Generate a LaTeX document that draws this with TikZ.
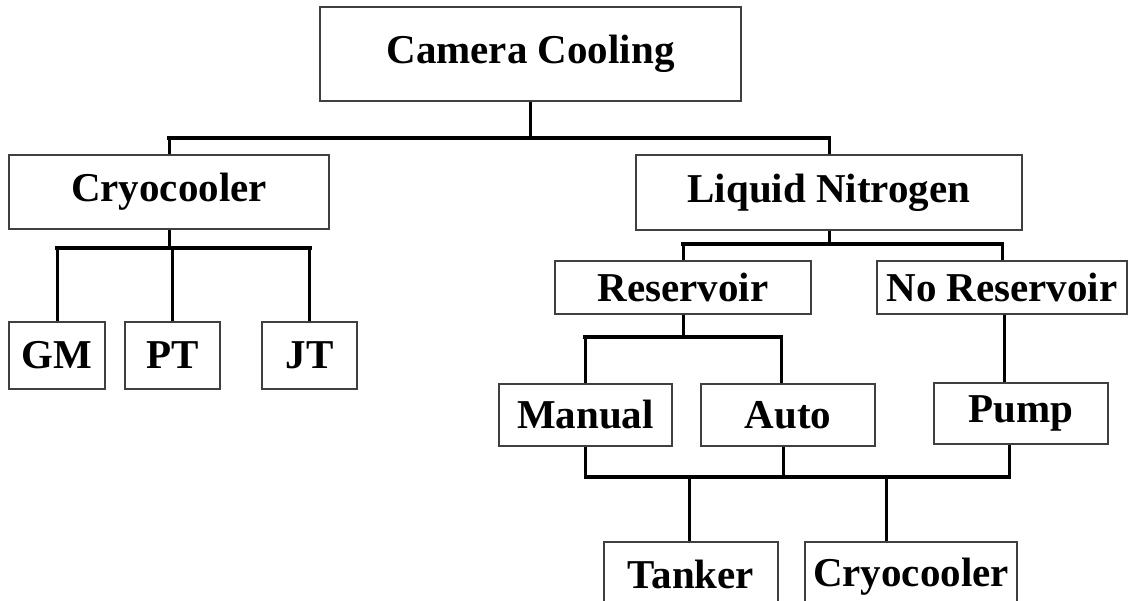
\documentclass[tikz,border=0pt]{standalone}
\usepackage{fontspec}
\setmainfont{Liberation Serif}
\usepackage{tikz}
\usetikzlibrary{positioning}

\begin{document}
\begin{tikzpicture}[x=1pt,y=-1pt,
    box/.style={draw=black!75,line width=1.3pt,inner sep=0pt,
      font=\fontsize{41}{48}\selectfont\bfseries},
    stem/.style={line width=3pt},
    bar/.style={line width=4.5pt,line cap=rect}]
      \useasboundingbox (0,0) rectangle (1130,601);
      \fill[white] (0,0) rectangle (1130,601);
      \clip (0,0) rectangle (1130,601);
      % top level
      \node[box,minimum width=421pt,minimum height=94pt] (camera) at (530.5,54) {Camera Cooling};
      \node[box,minimum width=320pt,minimum height=74pt] (cryo) at (169,192) {Cryocooler};
      \node[box,minimum width=386pt,minimum height=75pt] (lnit) at (829,192.5) {Liquid Nitrogen};
      % cryocooler types
      \node[box,minimum width=96pt,minimum height=67pt] (gm) at (57,355.5) {GM};
      \node[box,minimum width=95pt,minimum height=67pt] (pt) at (172.5,355.5) {PT};
      \node[box,minimum width=95pt,minimum height=67pt] (jt) at (309.5,355.5) {JT};
      % liquid nitrogen
      \node[box,minimum width=256pt,minimum height=53pt] (resv) at (683,287.5) {Reservoir};
      \node[box,minimum width=250pt,minimum height=53pt] (nores) at (1002,287.5) {No Reservoir};
      \node[box,minimum width=173pt,minimum height=62pt] (manual) at (585.5,415) {Manual};
      \node[box,minimum width=174pt,minimum height=62pt] (auto) at (788,415) {Auto};
      \node[box,minimum width=174pt,minimum height=61pt] (pump) at (1021,413.5) {Pump};
      \node[box,minimum width=174pt,minimum height=64pt] (tanker) at (691,574) {Tanker};
      \node[box,minimum width=212pt,minimum height=69pt] (cryob) at (911,576.5) {Cryocooler};

      \coordinate (jtop) at (530.5,138);
      \coordinate (jcryo) at (169,248);
      \coordinate (jln) at (829,244);
      \coordinate (jres) at (683,337);
      \coordinate (jbot) at (797,477);

      \draw[stem] (camera) -- (jtop);
      \draw[stem] (cryo.north) -- (cryo.north |- jtop);
      \draw[stem] (lnit.north) -- (lnit.north |- jtop);
      \draw[bar] (cryo.north |- jtop) -- (lnit.north |- jtop);

      \draw[stem] (cryo) -- (jcryo);
      \draw[stem] (gm.north) -- (gm.north |- jcryo);
      \draw[stem] (pt.north) -- (pt.north |- jcryo);
      \draw[stem] (jt.north) -- (jt.north |- jcryo);
      \draw[bar] (gm.north |- jcryo) -- (jt.north |- jcryo);

      \draw[stem] (lnit) -- (jln);
      \draw[stem] (resv.north) -- (resv.north |- jln);
      \draw[stem] (nores.north) -- (nores.north |- jln);
      \draw[bar] (resv.north |- jln) -- (nores.north |- jln);

      \draw[stem] (resv) -- (jres);
      \draw[stem] (manual.north) -- (manual.north |- jres);
      \draw[stem] ([xshift=-7pt]auto.north) -- ([xshift=-7pt]auto.north |- jres);
      \draw[bar] (manual.north |- jres) -- ([xshift=-7pt]auto.north |- jres);
      \draw[stem] ([xshift=2pt]nores.south) -- ([xshift=-17pt]pump.north);

      \draw[stem] (manual.south) -- (manual.south |- jbot);
      \draw[stem] ([xshift=-5pt]auto.south) -- ([xshift=-5pt]auto.south |- jbot);
      \draw[stem] ([xshift=-12pt]pump.south) -- ([xshift=-12pt]pump.south |- jbot);
      \draw[bar,line width=3.5pt] (manual.south |- jbot) -- ([xshift=-12pt]pump.south |- jbot);
      \draw[stem] ([xshift=-2pt]tanker.north) -- ([xshift=-2pt]tanker.north |- jbot);
      \draw[stem] ([xshift=-25pt]cryob.north) -- ([xshift=-25pt]cryob.north |- jbot);
    \end{tikzpicture}
\end{document}
